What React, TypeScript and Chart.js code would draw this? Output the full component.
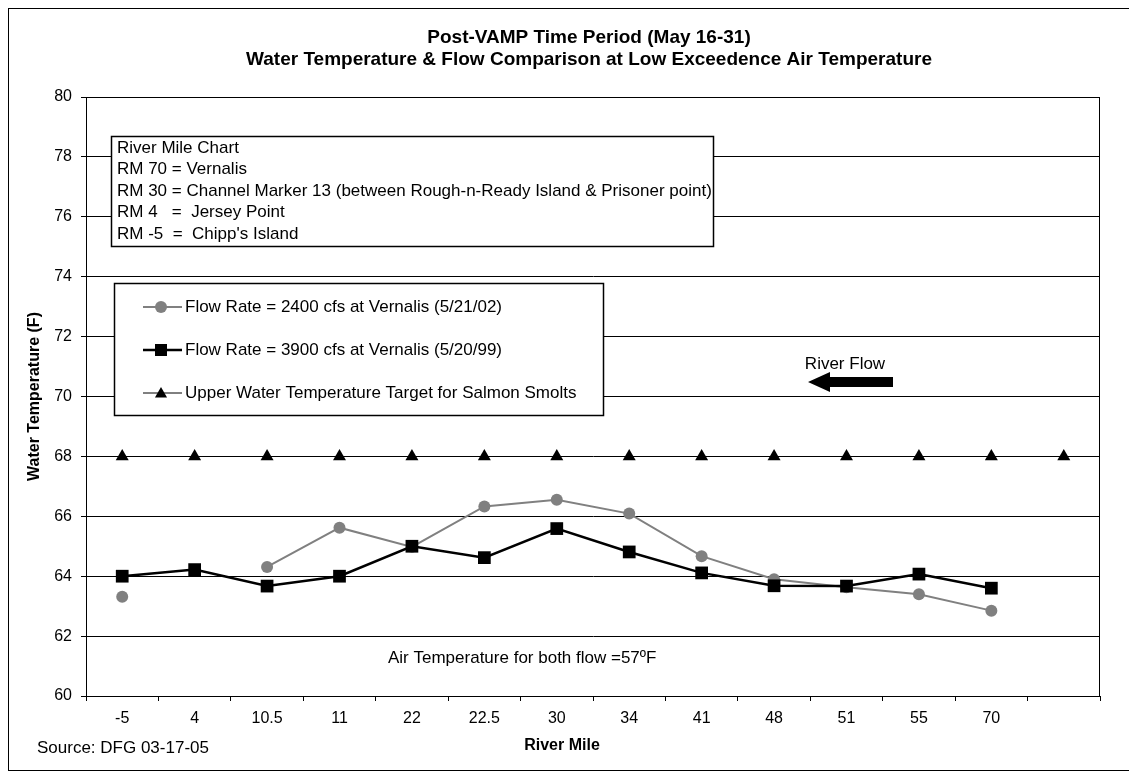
import { useEffect, useRef } from 'react';
import { Chart, registerables } from 'chart.js';

Chart.register(...registerables);

// ---- Data ----
const riverMiles = ['-5', '4', '10.5', '11', '22', '22.5', '30', '34', '41', '48', '51', '55', '70', ''];
const flow2400 = [63.31, null, 64.31, 65.62, 64.98, 66.33, 66.55, 66.09, 64.67, 63.9, 63.63, 63.4, 62.85, null];
const flow3900 = [64.0, 64.22, 63.67, 64.0, 65.0, 64.62, 65.59, 64.81, 64.11, 63.68, 63.67, 64.07, 63.6, null];
const targetTemp = [68, 68, 68, 68, 68, 68, 68, 68, 68, 68, 68, 68, 68, 68];

const yMin = 60;
const yMax = 80;
const yStep = 2;

const titleLines = [
  'Post-VAMP Time Period (May 16-31)',
  'Water Temperature & Flow Comparison at Low Exceedence Air Temperature',
];
const yTitle = 'Water Temperature (F)';
const xTitle = 'River Mile';
const sourceNote = 'Source: DFG 03-17-05';
const riverMileNotes = [
  'River Mile Chart',
  'RM 70 = Vernalis',
  'RM 30 = Channel Marker 13 (between Rough-n-Ready Island & Prisoner point)',
  'RM 4   =  Jersey Point',
  'RM -5  =  Chipp\'s Island',
];
const seriesLabels = [
  'Flow Rate = 2400 cfs at Vernalis (5/21/02)',
  'Flow Rate = 3900 cfs at Vernalis (5/20/99)',
  'Upper Water Temperature Target for Salmon Smolts',
];
const flowNote = 'River Flow';
const airNote = 'Air Temperature for both flow =57ºF';

const FONT = '"Liberation Sans", Arial, Helvetica, sans-serif';
const GRAY = '#808080';

function drawMarker(ctx: CanvasRenderingContext2D, style: string, x: number, y: number, r: number, color: string) {
  ctx.save();
  ctx.fillStyle = color;
  ctx.beginPath();
  if (style === 'circle') {
    ctx.arc(x, y, r, 0, Math.PI * 2);
  } else if (style === 'rect') {
    const s = Math.SQRT1_2 * r;
    ctx.rect(x - s, y - s, 2 * s, 2 * s);
  } else if (style === 'triangle') {
    const h = 1.5 * r;
    const w = Math.sqrt(3) * r;
    ctx.moveTo(x, y - r);
    ctx.lineTo(x + w / 2, y - r + h);
    ctx.lineTo(x - w / 2, y - r + h);
    ctx.closePath();
  }
  ctx.fill();
  ctx.restore();
}

const decorPlugin = {
  id: 'decor',
  afterDraw(chart: any) {
    const ctx: CanvasRenderingContext2D = chart.ctx;
    const { left, right, top, bottom } = chart.chartArea;
    ctx.save();

    // plot area border
    ctx.strokeStyle = '#000';
    ctx.lineWidth = 1;
    ctx.strokeRect(Math.round(left) + 0.5, Math.round(top) + 0.5, Math.round(right - left) - 1, Math.round(bottom - top));

    ctx.fillStyle = '#000';
    ctx.textBaseline = 'middle';

    // title
    ctx.font = `bold 19px ${FONT}`;
    ctx.textAlign = 'center';
    ctx.fillText(titleLines[0], 580, 29);
    ctx.fillText(titleLines[1], 580, 51);

    // y axis title
    ctx.save();
    ctx.translate(26, 387.5);
    ctx.rotate(-Math.PI / 2);
    ctx.font = `bold 16px ${FONT}`;
    ctx.fillText(yTitle, 0, 0);
    ctx.restore();

    // x axis title
    ctx.font = `bold 16px ${FONT}`;
    ctx.textAlign = 'center';
    ctx.fillText(xTitle, 553, 737);

    // source
    ctx.font = `17px ${FONT}`;
    ctx.textAlign = 'left';
    ctx.fillText(sourceNote, 28, 739);

    // River Mile box
    ctx.fillStyle = '#fff';
    ctx.fillRect(102, 127, 602, 110);
    ctx.strokeStyle = '#000';
    ctx.lineWidth = 1.5;
    ctx.strokeRect(102.5, 127.5, 602, 110);
    ctx.fillStyle = '#000';
    ctx.font = `17px ${FONT}`;
    riverMileNotes.forEach((t, i) => {
      ctx.fillText(t, 108, 139 + i * 21.5);
    });

    // Legend box
    ctx.fillStyle = '#fff';
    ctx.fillRect(105, 274, 489, 132);
    ctx.strokeStyle = '#000';
    ctx.lineWidth = 1.5;
    ctx.strokeRect(105.5, 274.5, 489, 132);
    const legendStyles = [
      { color: GRAY, style: 'circle', r: 6, lw: 2 },
      { color: '#000', style: 'rect', r: 8.5, lw: 2.5 },
      { color: '#000', style: 'triangle', r: 7, lw: 1 },
    ];
    seriesLabels.forEach((t, i) => {
      const y = 298 + i * 43;
      const s = legendStyles[i];
      ctx.strokeStyle = s.color;
      ctx.lineWidth = s.lw;
      ctx.beginPath();
      ctx.moveTo(134, y);
      ctx.lineTo(173, y);
      ctx.stroke();
      drawMarker(ctx, s.style, 152, s.style === 'triangle' ? y + 1 : y, s.r, s.color);
      ctx.fillStyle = '#000';
      ctx.font = `17px ${FONT}`;
      ctx.textAlign = 'left';
      ctx.fillText(t, 176, y);
    });

    // River flow note + arrow
    ctx.fillStyle = '#000';
    ctx.font = `17px ${FONT}`;
    ctx.textAlign = 'center';
    ctx.fillText(flowNote, 836, 355);
    ctx.beginPath();
    ctx.moveTo(799, 373);
    ctx.lineTo(821, 363);
    ctx.lineTo(821, 368);
    ctx.lineTo(884, 368);
    ctx.lineTo(884, 378);
    ctx.lineTo(821, 378);
    ctx.lineTo(821, 383);
    ctx.closePath();
    ctx.fill();

    // Air temperature note
    ctx.textAlign = 'left';
    ctx.fillText(airNote, 379, 649);

    ctx.restore();
  },
};

export default function App() {
  const canvasRef = useRef<HTMLCanvasElement | null>(null);

  useEffect(() => {
    if (!canvasRef.current) return;
    const tickFont = { family: FONT, size: 16 };
    const chart = new Chart(canvasRef.current, {
      type: 'line',
      data: {
        labels: riverMiles,
        datasets: [
          {
            label: seriesLabels[0],
            data: flow2400,
            borderColor: GRAY,
            backgroundColor: GRAY,
            borderWidth: 2,
            pointStyle: 'circle',
            pointRadius: 6,
            pointBorderWidth: 0,
            pointBackgroundColor: GRAY,
            spanGaps: false,
            tension: 0,
            order: 2,
          },
          {
            label: seriesLabels[1],
            data: flow3900,
            borderColor: '#000',
            backgroundColor: '#000',
            borderWidth: 2.5,
            pointStyle: 'rect',
            pointRadius: 9,
            pointBorderWidth: 0,
            pointBackgroundColor: '#000',
            spanGaps: false,
            tension: 0,
            order: 1,
          },
          {
            label: seriesLabels[2],
            data: targetTemp,
            borderColor: '#000',
            backgroundColor: '#000',
            showLine: false,
            pointStyle: 'triangle',
            pointRadius: 7.5,
            pointBorderWidth: 0,
            pointBackgroundColor: '#000',
            order: 0,
          },
        ],
      },
      options: {
        animation: false,
        responsive: false,
        maintainAspectRatio: false,
        layout: { padding: { left: 0, top: 88, right: 29, bottom: 0 } },
        plugins: {
          legend: { display: false },
          title: { display: false },
          tooltip: { enabled: false },
        },
        scales: {
          x: {
            type: 'category',
            offset: true,
            grid: { offset: true, drawOnChartArea: false, drawTicks: true, tickLength: 5, color: '#000' },
            border: { display: true, color: '#000', width: 1 },
            ticks: { color: '#000', font: tickFont, padding: 8, autoSkip: false, maxRotation: 0 },
            afterFit: (s: any) => { s.height = 74; },
          },
          y: {
            min: yMin,
            max: yMax,
            ticks: { stepSize: yStep, color: '#000', font: tickFont, padding: 9 },
            grid: { color: '#000', lineWidth: 1, tickLength: 5 },
            border: { display: true, color: '#000', width: 1 },
            afterFit: (s: any) => { s.width = 77; },
          },
        },
      },
      plugins: [decorPlugin],
    } as any);
    return () => chart.destroy();
  }, []);

  return (
    <div style={{ width: 1122, height: 763, border: '1px solid #000', boxSizing: 'border-box', background: '#fff' }}>
      <canvas ref={canvasRef} width={1120} height={761} style={{ display: 'block' }} />
    </div>
  );
}
